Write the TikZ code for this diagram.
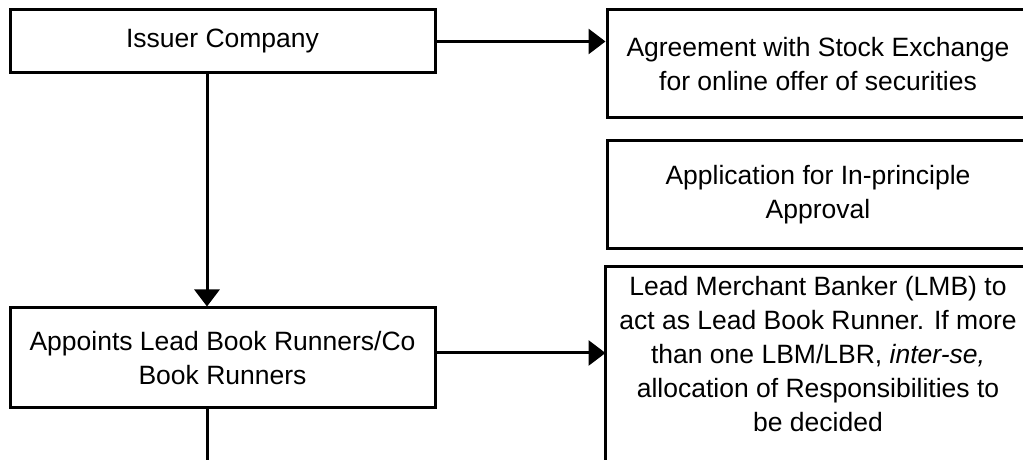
\documentclass[tikz,border=0pt]{standalone}
\usepackage{fontspec}
\setmainfont{Liberation Sans}
\usetikzlibrary{arrows.meta}
\tikzset{
  box/.style={draw, line width=3pt, rectangle, align=center, inner sep=0pt,
    font=\fontsize{26.5}{34}\selectfont},
  leftbox/.style={box, minimum width=425pt},
  rightbox/.style={box, minimum width=422pt, minimum height=108pt},
}
\begin{document}
\begin{tikzpicture}[x=1pt,y=1pt]
  \useasboundingbox (0,0) rectangle (1023,460);
  \clip (0,0) rectangle (1023,460);
  \coordinate (spine) at (207,0);
  \draw
    (222.5,418.5) node[leftbox, minimum height=63pt] (issuer){Issuer Company}
    (222.5,102) node[leftbox, minimum height=100pt] (appoints){Appoints Lead Book Runners/Co\\Book Runners}
    (818,396) node[rightbox] (agree){Agreement with Stock Exchange\\for online offer of securities}
    (818,265) node[rightbox] (approval){Application for In-principle\\Approval};
  \node[box, draw=none, anchor=north, minimum width=422pt, inner ysep=8pt]
    (lmb) at (818,193) {Lead Merchant Banker (LMB) to\\act as Lead Book Runner. If more\\than one LBM/LBR, \textit{inter-se,}\\allocation of Responsibilities to\\be decided};
  \draw[line width=3pt] (lmb.north west |- spine) -- (lmb.north west)
    -- (lmb.north east) -- (lmb.north east |- spine);
  \begin{scope}[line width=3pt, -{Triangle[length=17pt,width=25pt]}]
    \draw (issuer.east) to (issuer.east -| agree.west);
    \draw (issuer.south -| spine) to (appoints.north -| spine);
    \draw ([yshift=5pt]appoints.east) to ([yshift=5pt]appoints.east -| lmb.west);
  \end{scope}
  \draw[line width=3pt] (appoints.south -| spine) -- (spine);
\end{tikzpicture}
\end{document}
